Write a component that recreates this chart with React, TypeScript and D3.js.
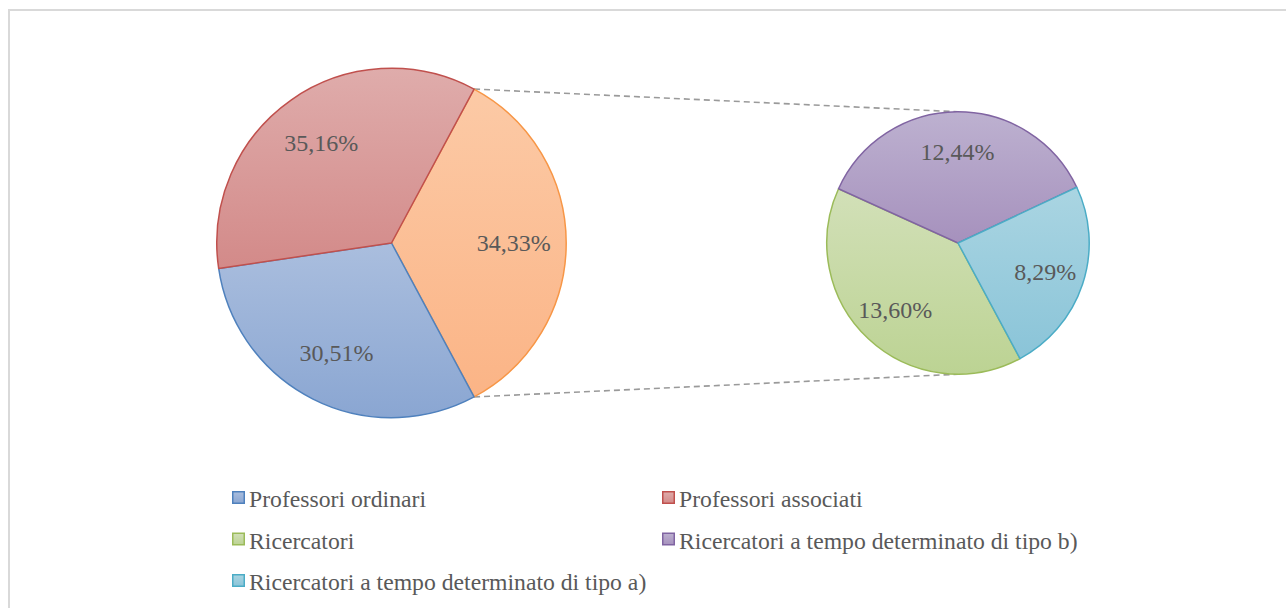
import React from "react";
import * as d3 from "d3";

// ---- data ----
const mainCategories = ["Professori ordinari", "Professori associati"];
const mainValues = [30.51, 35.16];
const secondaryCategories = [
  "Ricercatori",
  "Ricercatori a tempo determinato di tipo b)",
  "Ricercatori a tempo determinato di tipo a)",
];
const secondaryValues = [13.6, 12.44, 8.29];
const legendOrder = [
  "Professori ordinari",
  "Professori associati",
  "Ricercatori",
  "Ricercatori a tempo determinato di tipo b)",
  "Ricercatori a tempo determinato di tipo a)",
];

// ---- styles ----
const W = 1286;
const H = 608;
const FONT = '"Liberation Serif", "Times New Roman", Tinos, "DejaVu Serif", serif';
const TEXT = "#595959";

type Style = { stroke: string; top: string; bottom: string };
const styles: Record<string, Style> = {
  "Professori ordinari": { stroke: "#4f81bd", top: "#aabede", bottom: "#8aa6d2" },
  "Professori associati": { stroke: "#c0504d", top: "#dfacab", bottom: "#d38a89" },
  Altro: { stroke: "#f79646", top: "#fccaa6", bottom: "#fbb486" },
  Ricercatori: { stroke: "#9bbb59", top: "#d2e0b8", bottom: "#bcd393" },
  "Ricercatori a tempo determinato di tipo b)": { stroke: "#8064a2", top: "#bdb1d0", bottom: "#a691bd" },
  "Ricercatori a tempo determinato di tipo a)": { stroke: "#4bacc6", top: "#aad5e2", bottom: "#8ac4d8" },
};

const fmt = (v: number) => v.toFixed(2).replace(".", ",") + "%";
const gid = (name: string) => "g" + name.replace(/[^a-zA-Z0-9]/g, "_");

export default function App() {
  const otherValue = d3.sum(secondaryValues);
  const total = d3.sum(mainValues) + otherValue;
  const otherAngle = (otherValue / total) * 2 * Math.PI;

  // primary pie
  const c1 = { x: 391.5, y: 243 };
  const r1 = 174.7;
  const mainData = [
    { name: "Altro", value: otherValue },
    ...mainCategories.map((n, i) => ({ name: n, value: mainValues[i] })),
  ];
  const start1 = Math.PI / 2 - otherAngle / 2;
  const pie1 = d3
    .pie<{ name: string; value: number }>()
    .sort(null)
    .value((d) => d.value)
    .startAngle(start1)
    .endAngle(start1 + 2 * Math.PI);
  const arcs1 = pie1(mainData);
  const arc1 = d3.arc<d3.PieArcDatum<{ name: string; value: number }>>().innerRadius(0).outerRadius(r1);

  // secondary pie
  const c2 = { x: 958, y: 243 };
  const r2 = 131.2;
  const secData = secondaryCategories.map((n, i) => ({ name: n, value: secondaryValues[i] }));
  const start2 = Math.PI / 2 + otherAngle / 2;
  const pie2 = d3
    .pie<{ name: string; value: number }>()
    .sort(null)
    .value((d) => d.value)
    .startAngle(start2)
    .endAngle(start2 + 2 * Math.PI);
  const arcs2 = pie2(secData);
  const arc2 = d3.arc<d3.PieArcDatum<{ name: string; value: number }>>().innerRadius(0).outerRadius(r2);

  const labelPos = (a: d3.PieArcDatum<any>, r: number, c: { x: number; y: number }) => {
    const m = (a.startAngle + a.endAngle) / 2;
    const k = 0.7 * r;
    return [c.x + Math.sin(m) * k, c.y - Math.cos(m) * k];
  };

  // connector lines
  const pTop = [c1.x + Math.sin(start1) * r1, c1.y - Math.cos(start1) * r1];
  const pBot = [c1.x + Math.sin(start2) * r1, c1.y - Math.cos(start2) * r1];
  const qTop = [c2.x, c2.y - r2];
  const qBot = [c2.x, c2.y + r2];

  // legend
  const legX = [232, 662];
  const legY = [507, 548.5, 590];

  const textStyle = { fontFamily: FONT };

  return (
    <svg
      width={W}
      height={H}
      style={{ position: "absolute", left: 0, top: 0, background: "#fff" }}
      xmlns="http://www.w3.org/2000/svg"
    >
      <defs>
        {Object.entries(styles).map(([name, s]) => (
          <linearGradient key={name} id={gid(name)} x1="0" y1="0" x2="0" y2="1">
            <stop offset="0" stopColor={s.top} />
            <stop offset="1" stopColor={s.bottom} />
          </linearGradient>
        ))}
      </defs>
      <rect x={9} y={10} width={W + 50} height={H + 50} fill="#fff" stroke="#d9d9d9" strokeWidth={2} />

      <line x1={pTop[0]} y1={pTop[1]} x2={qTop[0]} y2={qTop[1]} stroke="#9a9a9a" strokeWidth={1.6} strokeDasharray="6 4" />
      <line x1={pBot[0]} y1={pBot[1]} x2={qBot[0]} y2={qBot[1]} stroke="#9a9a9a" strokeWidth={1.6} strokeDasharray="6 4" />

      <g transform={`translate(${c1.x},${c1.y})`}>
        {arcs1.map((a) => (
          <path
            key={a.data.name}
            d={arc1(a) || ""}
            fill={`url(#${gid(a.data.name)})`}
            stroke={styles[a.data.name].stroke}
            strokeWidth={1.5}
            strokeLinejoin="round"
          />
        ))}
      </g>
      <g transform={`translate(${c2.x},${c2.y})`}>
        {arcs2.map((a) => (
          <path
            key={a.data.name}
            d={arc2(a) || ""}
            fill={`url(#${gid(a.data.name)})`}
            stroke={styles[a.data.name].stroke}
            strokeWidth={1.5}
            strokeLinejoin="round"
          />
        ))}
      </g>

      {arcs1.map((a) => {
        const [x, y] = labelPos(a, r1, c1);
        return (
          <text key={"l" + a.data.name} x={x} y={y} dy="0.35em" textAnchor="middle" style={textStyle} fontSize={24} fill={TEXT}>
            {fmt(a.data.value)}
          </text>
        );
      })}
      {arcs2.map((a) => {
        const [x, y] = labelPos(a, r2, c2);
        return (
          <text key={"l" + a.data.name} x={x} y={y} dy="0.35em" textAnchor="middle" style={textStyle} fontSize={24} fill={TEXT}>
            {fmt(a.data.value)}
          </text>
        );
      })}

      {legendOrder.map((name, i) => {
        const x = legX[i % 2];
        const y = legY[Math.floor(i / 2)];
        const s = styles[name];
        return (
          <g key={"leg" + name}>
            <rect x={x + 0.75} y={y - 15.25} width={11.5} height={11.5} fill={`url(#${gid(name)})`} stroke={s.stroke} strokeWidth={1.5} />
            <text x={x + 17} y={y} style={textStyle} fontSize={23.7} fill={TEXT}>
              {name}
            </text>
          </g>
        );
      })}
    </svg>
  );
}
